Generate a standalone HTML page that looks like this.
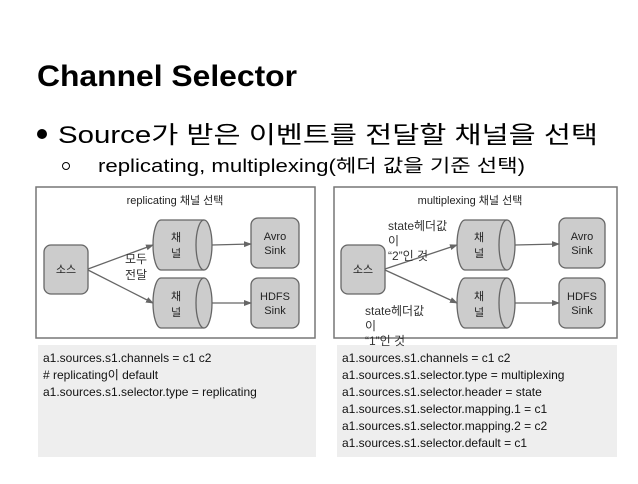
<!DOCTYPE html>
<html><head><meta charset="utf-8"><style>
body{margin:0;width:638px;height:479px;background:#fff;overflow:hidden}
svg text{font-family:"Liberation Sans","Noto Sans CJK KR",sans-serif}
</style></head><body>
<svg width="638" height="479" viewBox="0 0 638 479" xmlns="http://www.w3.org/2000/svg">
<defs><marker id="a" markerWidth="8" markerHeight="8" refX="7" refY="4" orient="auto" markerUnits="userSpaceOnUse"><path d="M0,1 L8,4 L0,7 z" fill="#666"/></marker></defs>
<text x="37" y="86" font-size="30" font-weight="bold" fill="#000" textLength="260" lengthAdjust="spacingAndGlyphs">Channel Selector</text>
<circle cx="42" cy="134" r="5" fill="#000"/>
<text x="58" y="143" font-size="24" fill="#000" textLength="540" lengthAdjust="spacingAndGlyphs">Source가 받은 이벤트를 전달할 채널을 선택</text>
<circle cx="66" cy="166" r="3.5" fill="none" stroke="#000" stroke-width="1"/>
<text x="98" y="172" font-size="18" fill="#000" textLength="427" lengthAdjust="spacingAndGlyphs">replicating, multiplexing(헤더 값을 기준 선택)</text>

<g fill="none" stroke="#777" stroke-width="1.5">
<rect x="36" y="187" width="279" height="151"/>
<rect x="334" y="187" width="283" height="151"/>
</g>
<rect x="38" y="345" width="278" height="112" fill="#eee"/>
<rect x="337" y="345" width="280" height="112" fill="#eee"/>

<g font-size="11" fill="#222" text-anchor="middle">
<text x="175" y="204">replicating 채널 선택</text>
<text x="470" y="204">multiplexing 채널 선택</text>
</g>

<g stroke="#666" stroke-width="1.3" fill="#ccc">
<rect x="44" y="245" width="44" height="49" rx="7"/>
<rect x="251" y="218" width="48" height="50" rx="7"/>
<rect x="251" y="278" width="48" height="50" rx="7"/>
<path d="M161,220 H204 A8,25 0 0 1 204,270 H161 A8,25 0 0 1 161,220 Z"/>
<path d="M204,220 A8,25 0 0 0 204,270"/>
<path d="M161,278 H204 A8,25 0 0 1 204,328 H161 A8,25 0 0 1 161,278 Z"/>
<path d="M204,278 A8,25 0 0 0 204,328"/>
<rect x="341" y="245" width="44" height="49" rx="7"/>
<rect x="559" y="218" width="46" height="50" rx="7"/>
<rect x="559" y="278" width="46" height="50" rx="7"/>
<path d="M465,220 H507 A8,25 0 0 1 507,270 H465 A8,25 0 0 1 465,220 Z"/>
<path d="M507,220 A8,25 0 0 0 507,270"/>
<path d="M465,278 H507 A8,25 0 0 1 507,328 H465 A8,25 0 0 1 465,278 Z"/>
<path d="M507,278 A8,25 0 0 0 507,328"/>
</g>
<g stroke="#666" stroke-width="1.3" fill="none" marker-end="url(#a)">
<line x1="88" y1="269" x2="153" y2="245"/>
<line x1="88" y1="270" x2="153" y2="303"/>
<line x1="212" y1="245" x2="251" y2="244"/>
<line x1="212" y1="303" x2="251" y2="303"/>
<line x1="385" y1="269" x2="457" y2="245"/>
<line x1="385" y1="270" x2="457" y2="303"/>
<line x1="515" y1="245" x2="559" y2="244"/>
<line x1="515" y1="303" x2="559" y2="303"/>
</g>
<g font-size="11" fill="#222" text-anchor="middle">
<text x="66" y="273">소스</text>
<text x="363" y="273">소스</text>
<text x="176" y="241">채</text><text x="176" y="257">널</text>
<text x="176" y="300">채</text><text x="176" y="316">널</text>
<text x="479" y="241">채</text><text x="479" y="257">널</text>
<text x="479" y="300">채</text><text x="479" y="316">널</text>
<text x="275" y="240">Avro</text><text x="275" y="254">Sink</text>
<text x="275" y="300">HDFS</text><text x="275" y="314">Sink</text>
<text x="582" y="240">Avro</text><text x="582" y="254">Sink</text>
<text x="582" y="300">HDFS</text><text x="582" y="314">Sink</text>
</g>
<g font-size="12" fill="#333">
<text x="125" y="263">모두</text><text x="125" y="279">전달</text>
<text x="388" y="230">state헤더값</text><text x="388" y="245">이</text><text x="388" y="260">“2”인 것</text>
<text x="365" y="315">state헤더값</text><text x="365" y="330">이</text><text x="365" y="345">“1”인 것</text>
</g>
<g font-size="12" fill="#111">
<text x="43" y="362">a1.sources.s1.channels = c1 c2</text>
<text x="43" y="379"># replicating이 default</text>
<text x="43" y="396">a1.sources.s1.selector.type = replicating</text>
<text x="342" y="362">a1.sources.s1.channels = c1 c2</text>
<text x="342" y="379">a1.sources.s1.selector.type = multiplexing</text>
<text x="342" y="396">a1.sources.s1.selector.header = state</text>
<text x="342" y="413">a1.sources.s1.selector.mapping.1 = c1</text>
<text x="342" y="430">a1.sources.s1.selector.mapping.2 = c2</text>
<text x="342" y="447">a1.sources.s1.selector.default = c1</text>
</g>
</svg>
</body></html>
